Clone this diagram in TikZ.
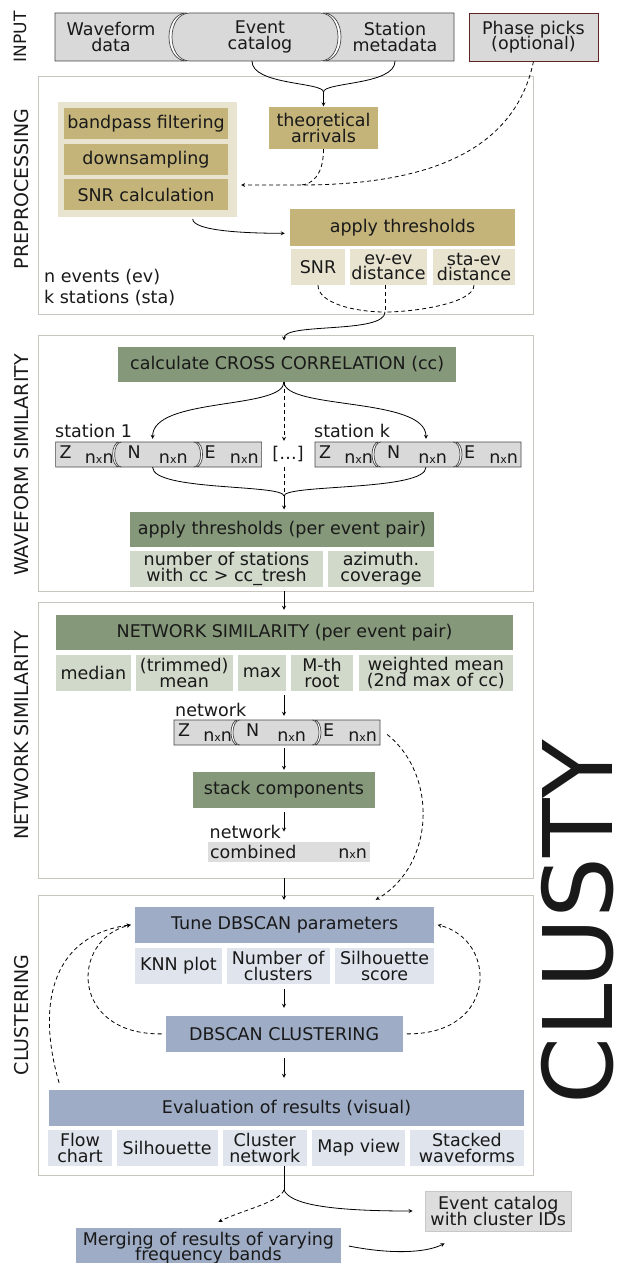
\documentclass[tikz,border=0pt]{standalone}
\usepackage{fontspec}
\setmainfont{DejaVu Sans}
\usetikzlibrary{shapes, arrows, calc}
\AtBeginDocument{\lineskiplimit=-\maxdimen\relax}

\definecolor{ingray}{RGB}{217,217,217}
\definecolor{indraw}{RGB}{70,70,70}
\definecolor{phasedraw}{RGB}{95,35,35}
\definecolor{framegray}{RGB}{200,196,190}
\definecolor{tanpanel}{RGB}{233,228,208}
\definecolor{tandark}{RGB}{196,180,122}
\definecolor{tanlight}{RGB}{231,227,207}
\definecolor{greendark}{RGB}{133,152,122}
\definecolor{greenlight}{RGB}{209,217,202}
\definecolor{bluedark}{RGB}{158,172,197}
\definecolor{bluelight}{RGB}{223,228,237}
\definecolor{combgray}{RGB}{221,221,221}
\definecolor{evborder}{RGB}{200,200,200}

\tikzstyle{secframe} = [rectangle, draw=framegray, fill=white, line width=0.8pt]
\tikzstyle{piece} = [fill=ingray, draw=indraw, line width=0.7pt]
\tikzstyle{tanbox} = [rectangle, fill=tandark]
\tikzstyle{tansub} = [rectangle, fill=tanlight]
\tikzstyle{greenbox} = [rectangle, fill=greendark]
\tikzstyle{greensub} = [rectangle, fill=greenlight]
\tikzstyle{bluebox} = [rectangle, fill=bluedark]
\tikzstyle{bluesub} = [rectangle, fill=bluelight]
\tikzstyle{sidelabel} = [rotate=90, font=\fontsize{19}{19}\selectfont]
\tikzstyle{conn} = [line width=0.8pt]
\tikzstyle{dashline} = [conn, dash pattern=on 4pt off 3pt]
\tikzstyle{arrow} = [conn,->,>=stealth]
\tikzstyle{dasharrow} = [arrow, dash pattern=on 4pt off 3pt]

\newcommand{\nxn}{n{\fontsize{11}{11}\selectfont x}n}
% Z, N, E components as puzzle pieces (prefix, left, top)
\newcommand{\znestrip}[3]{%
  \draw [piece] (#2,#3) -- ({#2+64},#3) .. controls ({#2+54.7},#3) and ({#2+54.7},{#3+25}) .. ({#2+64},{#3+25}) -- (#2,{#3+25}) -- cycle;
  \draw [piece] ({#2+66},#3) -- ({#2+138},#3) .. controls ({#2+147.3},#3) and ({#2+147.3},{#3+25}) .. ({#2+138},{#3+25}) -- ({#2+66},{#3+25}) .. controls ({#2+56.7},{#3+25}) and ({#2+56.7},#3) .. cycle;
  \draw [piece] ({#2+140},#3) -- ({#2+206},#3) -- ({#2+206},{#3+25}) -- ({#2+140},{#3+25}) .. controls ({#2+149.3},{#3+25}) and ({#2+149.3},#3) .. cycle;
  \node (#1Z) [minimum width=54pt, minimum height=25pt] at ({#2+31},{#3+12.5}) {\parbox{54pt}{Z\\[-10.5pt]\mbox{}\hfill\nxn}};
  \node (#1N) [minimum width=60pt, minimum height=25pt] at ({#2+102},{#3+12.5}) {\parbox{60pt}{N\\[-10.5pt]\mbox{}\hfill\nxn}};
  \node (#1E) [minimum width=54pt, minimum height=25pt] at ({#2+176},{#3+12.5}) {\parbox{54pt}{E\\[-10.5pt]\mbox{}\hfill\nxn}};
}

\begin{document}
\begin{tikzpicture}[x=1pt, y=-1pt, inner sep=0pt, align=center, text=black!90,
    font=\fontsize{17.5}{15.5}\selectfont]
    \useasboundingbox (0,0) rectangle (620,1263);

    % Frames
    \node (preframe) [secframe, minimum width=494.5pt, minimum height=238pt] at (285.75,195) {};
    \node (wfframe) [secframe, minimum width=494.5pt, minimum height=256pt] at (285.75,463) {};
    \node (netframe) [secframe, minimum width=494.5pt, minimum height=276pt] at (285.75,740) {};
    \node (clframe) [secframe, minimum width=494.5pt, minimum height=280pt] at (285.75,1035) {};

    % Side labels
    \node (lblin) [sidelabel, font=\fontsize{17}{17}\selectfont] at (20,37) {INPUT};
    \node (lblpre) [sidelabel] at (22,189) {PREPROCESSING};
    \node (lblwf) [sidelabel] at (22,465) {WAVEFORM SIMILARITY};
    \node (lblnet) [sidelabel] at (22,735) {NETWORK SIMILARITY};
    \node (lblcl) [sidelabel] at (22,1015) {CLUSTERING};
    \node (clusty) [rotate=90, font=\fontsize{96}{96}\selectfont] at (578,922) {CLUSTY};

    % Input
    \draw [piece] (55,13) -- (187,13) .. controls (163,13) and (163,61) .. (187,61) -- (55,61) -- cycle;
    \draw [piece] (190,13) -- (320,13) .. controls (344,13) and (344,61) .. (320,61) -- (190,61) .. controls (166,61) and (166,13) .. cycle;
    \draw [piece] (323,13) -- (454,13) -- (454,61) -- (323,61) .. controls (347,61) and (347,13) .. cycle;
    \node (wave) [minimum height=48pt] at (111,37) {Waveform\\data};
    \node (evcat) [minimum height=48pt] at (260,37) {Event\\catalog};
    \node (stamd) [minimum height=48pt] at (395,37) {Station\\metadata};
    \node (phase) [rectangle, fill=ingray, draw=phasedraw, line width=0.7pt, minimum width=129pt, minimum height=48pt] at (533.5,37) {Phase picks\\(optional)};

    % Preprocessing
    \node (bpanel) [rectangle, fill=tanpanel, minimum width=178.6pt, minimum height=115pt] at (147.7,159.2) {};
    \node (bandpass) [tanbox, minimum width=164pt, minimum height=31.3pt] at (146,123.3) {bandpass filtering};
    \node (downs) [tanbox, minimum width=164pt, minimum height=31.3pt] at (146,159.3) {downsampling};
    \node (snrcalc) [tanbox, minimum width=164pt, minimum height=31.3pt] at (146,194.5) {SNR calculation};
    \node (theo) [tanbox, minimum width=109pt, minimum height=42.3pt] at (323.5,127.8) {theoretical\\arrivals};
    \node (athr) [tanbox, minimum width=225pt, minimum height=36.7pt] at (402.5,227.3) {apply thresholds};
    \node (tsnr) [tansub, minimum width=54pt, minimum height=36pt] at (318,267) {SNR};
    \node (tevev) [tansub, minimum width=77pt, minimum height=36pt] at (388.5,267) {ev-ev\\distance};
    \node (tstaev) [tansub, minimum width=82pt, minimum height=36pt] at (474,267) {sta-ev\\distance};
    \node (nkinfo) [anchor=west, align=left] at (44,287.5) {n events (ev)\\[5.5pt]k stations (sta)};

    % Waveform similarity
    \node (ccbox) [greenbox, minimum width=337.6pt, minimum height=35pt] at (287.2,364.2) {calculate CROSS CORRELATION (cc)};
    \node (st1lbl) [anchor=west] at (55,431) {station 1};
    \znestrip{sa}{55.6}{442}
    \node (dots) [minimum height=26pt] at (288,454) {[\dots]};
    \node (stklbl) [anchor=west] at (314,431) {station k};
    \znestrip{sk}{315}{442}
    \node (athr2) [greenbox, minimum width=304pt, minimum height=35pt] at (282,529.2) {apply thresholds (per event pair)};
    \node (nstat) [greensub, minimum width=193pt, minimum height=36pt] at (226.5,568.7) {number of stations\\with cc > cc\_tresh};
    \node (azim) [greensub, minimum width=106pt, minimum height=36pt] at (381,568.7) {azimuth.\\coverage};

    % Network similarity
    \node (netsim) [greenbox, minimum width=456.3pt, minimum height=35pt] at (284.55,632.5) {NETWORK SIMILARITY (per event pair)};
    \node (median) [greensub, minimum width=75.4pt, minimum height=36pt] at (93.3,673) {median};
    \node (tmean) [greensub, minimum width=96.5pt, minimum height=36pt] at (184.25,673) {(trimmed)\\mean};
    \node (maxv) [greensub, minimum width=48.3pt, minimum height=36pt] at (261.85,673) {max};
    \node (mroot) [greensub, minimum width=62pt, minimum height=36pt] at (322,673) {M-th\\root};
    \node (wmean) [greensub, minimum width=153.7pt, minimum height=36pt] at (435.85,673) {weighted mean\\(2nd max of cc)};
    \node (netlbl) [anchor=west] at (175,710) {network};
    \znestrip{nw}{174}{720}
    \node (stack) [greenbox, minimum width=182pt, minimum height=35.7pt] at (284,789.85) {stack components};
    \node (netlbl2) [anchor=west] at (209.5,832) {network};
    \node (comb) [rectangle, fill=combgray, minimum width=162pt, minimum height=20pt] at (288.55,851.85) {\parbox{157pt}{combined\hfill\nxn}};

    % Clustering
    \node (tune) [bluebox, minimum width=299.4pt, minimum height=35.7pt] at (284.7,924.85) {Tune DBSCAN parameters};
    \node (knn) [bluesub, minimum width=86.8pt, minimum height=36.3pt] at (178.4,965.85) {KNN plot};
    \node (nclus) [bluesub, minimum width=103.5pt, minimum height=36.3pt] at (278.25,965.85) {Number of\\clusters};
    \node (silsc) [bluesub, minimum width=99.7pt, minimum height=36.3pt] at (384.55,965.85) {Silhouette\\score};
    \node (dbscan) [bluebox, minimum width=236.9pt, minimum height=35.7pt] at (284.15,1033.85) {DBSCAN CLUSTERING};
    \node (evalr) [bluebox, minimum width=474.5pt, minimum height=35.7pt] at (286.55,1107.85) {Evaluation of results (visual)};
    \node (flowc) [bluesub, minimum width=64pt, minimum height=36pt] at (80,1148) {Flow\\chart};
    \node (silh) [bluesub, minimum width=101.3pt, minimum height=36pt] at (167.15,1148) {Silhouette};
    \node (clnet) [bluesub, minimum width=84.4pt, minimum height=36pt] at (264.8,1148) {Cluster\\network};
    \node (mapv) [bluesub, minimum width=93.4pt, minimum height=36pt] at (358.7,1148) {Map view};
    \node (stwf) [bluesub, minimum width=113.8pt, minimum height=36pt] at (466.9,1148) {Stacked\\waveforms};

    % Output
    \node (evids) [rectangle, fill=combgray, draw=evborder, line width=0.8pt, minimum width=146.5pt, minimum height=40pt] at (498.25,1211) {Event catalog\\with cluster IDs};
    \node (merge) [bluebox, minimum width=264.3pt, minimum height=40pt] at (208.45,1248) {Merging of results of varying\\frequency bands};

    % Junctions
    \coordinate (tj) at (323.5,92);
    \coordinate (pj) at (300,185);
    \coordinate (pin) at (241,185);
    \coordinate (thj) at (385,312);
    \coordinate (wj) at (284,496);
    \coordinate (bj) at (284,1190);

    % Arrows
    \draw [conn] ($(evcat.south)+(-8,0)$) .. controls +(0,24) and +(0,-10) .. (tj);
    \draw [conn] (stamd.south) .. controls +(0,24) and +(0,-10) .. (tj);
    \draw [arrow] (tj) -- (theo.north);
    \draw [dasharrow] (phase.south) .. controls (515,150) and (430,185) .. (pj) -- (pin);
    \draw [dashline] (theo.south) .. controls +(0,26) and +(12,0) .. (pj);
    \draw [arrow] ($(bpanel.south)+(45,2)$) .. controls +(0,12) and +(-40,0) .. ($(athr.west)+(-5,6)$);

    \draw [dashline] (tsnr.south) .. controls +(0,18) and +(-30,0) .. (thj);
    \draw [dashline] (tevev.south -| thj) -- (thj);
    \draw [dashline] (tstaev.south) .. controls +(0,18) and +(30,0) .. (thj);
    \draw [arrow] (thj) .. controls +(0,22) and +(0,-18) .. ($(ccbox.north -| wj)+(0,-6)$);

    \draw [arrow] (ccbox.south -| wj) .. controls +(0,28) and +(0,-42) .. ($(saN.north)+(-5,-3)$);
    \draw [arrow] (ccbox.south -| wj) .. controls +(0,28) and +(0,-42) .. ($(skN.north)+(9,-3)$);
    \draw [dasharrow] (ccbox.south -| wj) -- (dots.north -| wj);
    \draw [conn] ($(saN.south)+(-5,0)$) .. controls +(0,24) and +(0,-12) .. (wj);
    \draw [conn] ($(skN.south)+(9,0)$) .. controls +(0,24) and +(0,-12) .. (wj);
    \draw [dashline] (dots.south -| wj) -- (wj);
    \draw [arrow] (wj) -- ($(athr2.north -| wj)+(0,-2)$);
    \draw [arrow] (wfframe.south -| wj) -- ($(netsim.north -| wj)+(0,-5)$);

    \draw [arrow] ($(maxv.south -| wj)+(0,4)$) -- ($(nwN.north -| wj)+(0,-4)$);
    \draw [arrow] ($(nwN.south -| wj)+(0,3)$) -- ($(stack.north -| wj)+(0,-2)$);
    \draw [arrow] ($(stack.south -| wj)+(0,4)$) -- ($(comb.north -| wj)+(0,-10)$);
    \draw [arrow] (netframe.south -| wj) -- ($(tune.north -| wj)+(0,-7)$);
    \draw [dasharrow] ($(nwE.east)+(10,2)$) .. controls (438,775) and (435,865) .. ($(tune.north)+(91,-7)$);

    \draw [arrow] ($(nclus.south -| wj)+(0,5)$) -- ($(dbscan.north -| wj)+(0,-8)$);
    \draw [dasharrow] ($(dbscan.west)+(-4,0)$) .. controls (70,1035) and (70,940) .. ($(tune.west)+(-4,0)$);
    \draw [dasharrow] ($(dbscan.east)+(4,0)$) .. controls (498,1035) and (498,940) .. ($(tune.east)+(3,0)$);
    \draw [dasharrow] ($(evalr.north west)+(10,-7)$) .. controls (35,1000) and (55,935) .. ($(tune.west)+(-4,0)$);
    \draw [arrow] ($(dbscan.south -| wj)+(0,6)$) -- ($(evalr.north -| wj)+(0,-12)$);

    \draw [conn] (clnet.south -| bj) -- (bj);
    \draw [arrow] (bj) .. controls +(6,14) and +(-85,0) .. ($(evids.west)+(-12,0)$);
    \draw [dasharrow] (bj) .. controls +(-4,12) and +(25,-12) .. ($(merge.north)+(10,-6)$);
    \draw [arrow] ($(merge.east)+(8,-2)$) .. controls +(40,8) and +(-20,10) .. ($(evids.south west)+(20,12)$);

\end{tikzpicture}
\end{document}
